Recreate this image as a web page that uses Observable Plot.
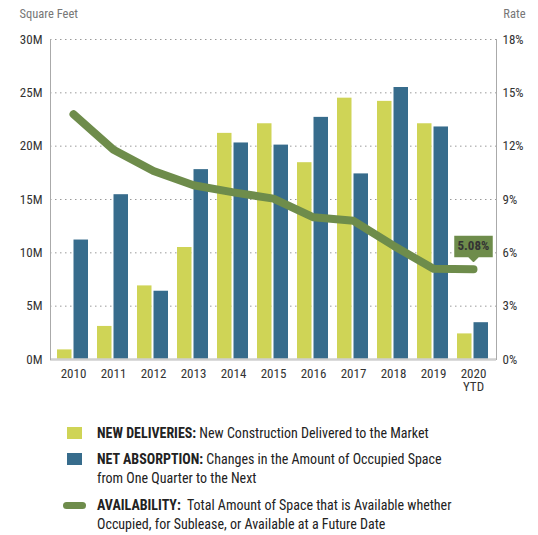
<!DOCTYPE html>
<html><head><meta charset="utf-8">
<script src="https://cdn.jsdelivr.net/npm/d3@7"></script>
<script src="https://cdn.jsdelivr.net/npm/@observablehq/plot@0.6"></script>
<style>
body{margin:0;background:#fff;font-family:"Liberation Sans Narrow","Roboto Condensed","Liberation Sans",Arial,sans-serif;}
#wrap{position:relative;width:538px;height:535px;}
#legend{position:absolute;left:0;top:410px;width:538px;height:125px;font-size:14px;color:#222;}
.row{position:absolute;left:0;width:538px;line-height:19px;}
.txt{position:absolute;left:97px;top:0;white-space:nowrap;}
.txt b{font-weight:bold;}
.sw{position:absolute;}
</style></head><body>
<div id="wrap"><div id="chart"></div>
<div id="legend">
  <div class="row" style="top:13.5px"><div class="sw" style="left:67px;top:3.5px;width:15px;height:12px;background:#cfd456"></div><div class="txt"><b>NEW DELIVERIES:</b> New Construction Delivered to the Market</div></div>
  <div class="row" style="top:39.5px"><div class="sw" style="left:67px;top:3.5px;width:15px;height:12px;background:#376c8c"></div><div class="txt"><b>NET ABSORPTION:</b> Changes in the Amount of Occupied Space<br>from One Quarter to the Next</div></div>
  <div class="row" style="top:85.5px"><div class="sw" style="left:63px;top:6px;width:23px;height:7px;border-radius:4px;background:#6e8c4b"></div><div class="txt"><b>AVAILABILITY:</b>&nbsp; Total Amount of Space that is Available whether<br>Occupied, for Sublease, or Available at a Future Date</div></div>
</div></div>
<script>
const years = ["2010","2011","2012","2013","2014","2015","2016","2017","2018","2019","2020\nYTD"];
const newDeliveries = [0.9, 3.1, 6.9, 10.5, 21.2, 22.1, 18.45, 24.5, 24.2, 22.1, 2.4];
const netAbsorption = [11.2, 15.45, 6.4, 17.8, 20.3, 20.1, 22.7, 17.4, 25.5, 21.8, 3.45];
const availability = [13.8, 11.8, 10.6, 9.8, 9.4, 9.05, 8.0, 7.8, 6.4, 5.1, 5.08];
const leftTicks = [0, 5, 10, 15, 20, 25, 30];
const rightTicks = [0, 3, 6, 9, 12, 15, 18];
const sfMax = 30, rateMax = 18;

const rows = years.map((y, i) => ({year: y, nd: newDeliveries[i], na: netAbsorption[i], av: availability[i] * sfMax / rateMax, rate: availability[i]}));
const last = [rows[rows.length - 1]];
const FONT = '"Liberation Sans Narrow","Roboto Condensed","Liberation Sans",Arial,sans-serif';

const plot = Plot.plot({
  width: 538, height: 410,
  marginLeft: 50, marginRight: 42, marginTop: 39, marginBottom: 51,
  style: {fontFamily: FONT, fontSize: "13px", color: "#333", background: "#fff", overflow: "visible"},
  x: {type: "band", domain: years, padding: 0, label: null},
  y: {domain: [0, sfMax], label: null},
  marks: [
    Plot.gridY(leftTicks.slice(1), {stroke: "#9a9a9a", strokeOpacity: 1, strokeDasharray: "1.5,3.5"}),
    Plot.barY(rows, {x: "year", y: "nd", fill: "#cfd456", insetLeft: 4, insetRight: 21.5}),
    Plot.barY(rows, {x: "year", y: "na", fill: "#376c8c", insetLeft: 20.5, insetRight: 5}),
    Plot.ruleY([0], {stroke: "#cfcfcf", strokeWidth: 2.5}),
    Plot.frame({anchor: "left", stroke: "#aaa"}),
    Plot.frame({anchor: "right", stroke: "#aaa"}),
    Plot.line(rows, {x: "year", y: "av", stroke: "#6e8c4b", strokeWidth: 8, strokeLinecap: "round", strokeLinejoin: "round"}),
    Plot.axisY(leftTicks, {anchor: "left", tickSize: 0, tickPadding: 8, tickFormat: d => d + "M", label: null}),
    Plot.axisY(rightTicks.map(t => t * sfMax / rateMax), {anchor: "right", tickSize: 0, tickPadding: 6, tickFormat: d => Math.round(d * rateMax / sfMax) + "%", label: null}),
    Plot.axisX({tickSize: 0, tickPadding: 9, label: null}),
    Plot.text(["Square Feet"], {frameAnchor: "top-left", dx: -31, dy: -30, fill: "#777", fontSize: 12.5}),
    Plot.text(["Rate"], {frameAnchor: "top-right", dx: 29, dy: -30, fill: "#777", fontSize: 12.5}),
    Plot.tip(last, {x: "year", y: "av", dy: -6, title: d => d.rate.toFixed(2) + "%", anchor: "bottom", fill: "#6e8c4b", stroke: "#fff", strokeWidth: 1.5, pathFilter: "none", fontSize: 13, fontWeight: "bold", textPadding: 4, pointerSize: 11}),
  ]
});
document.getElementById("chart").appendChild(plot);
</script></body></html>
